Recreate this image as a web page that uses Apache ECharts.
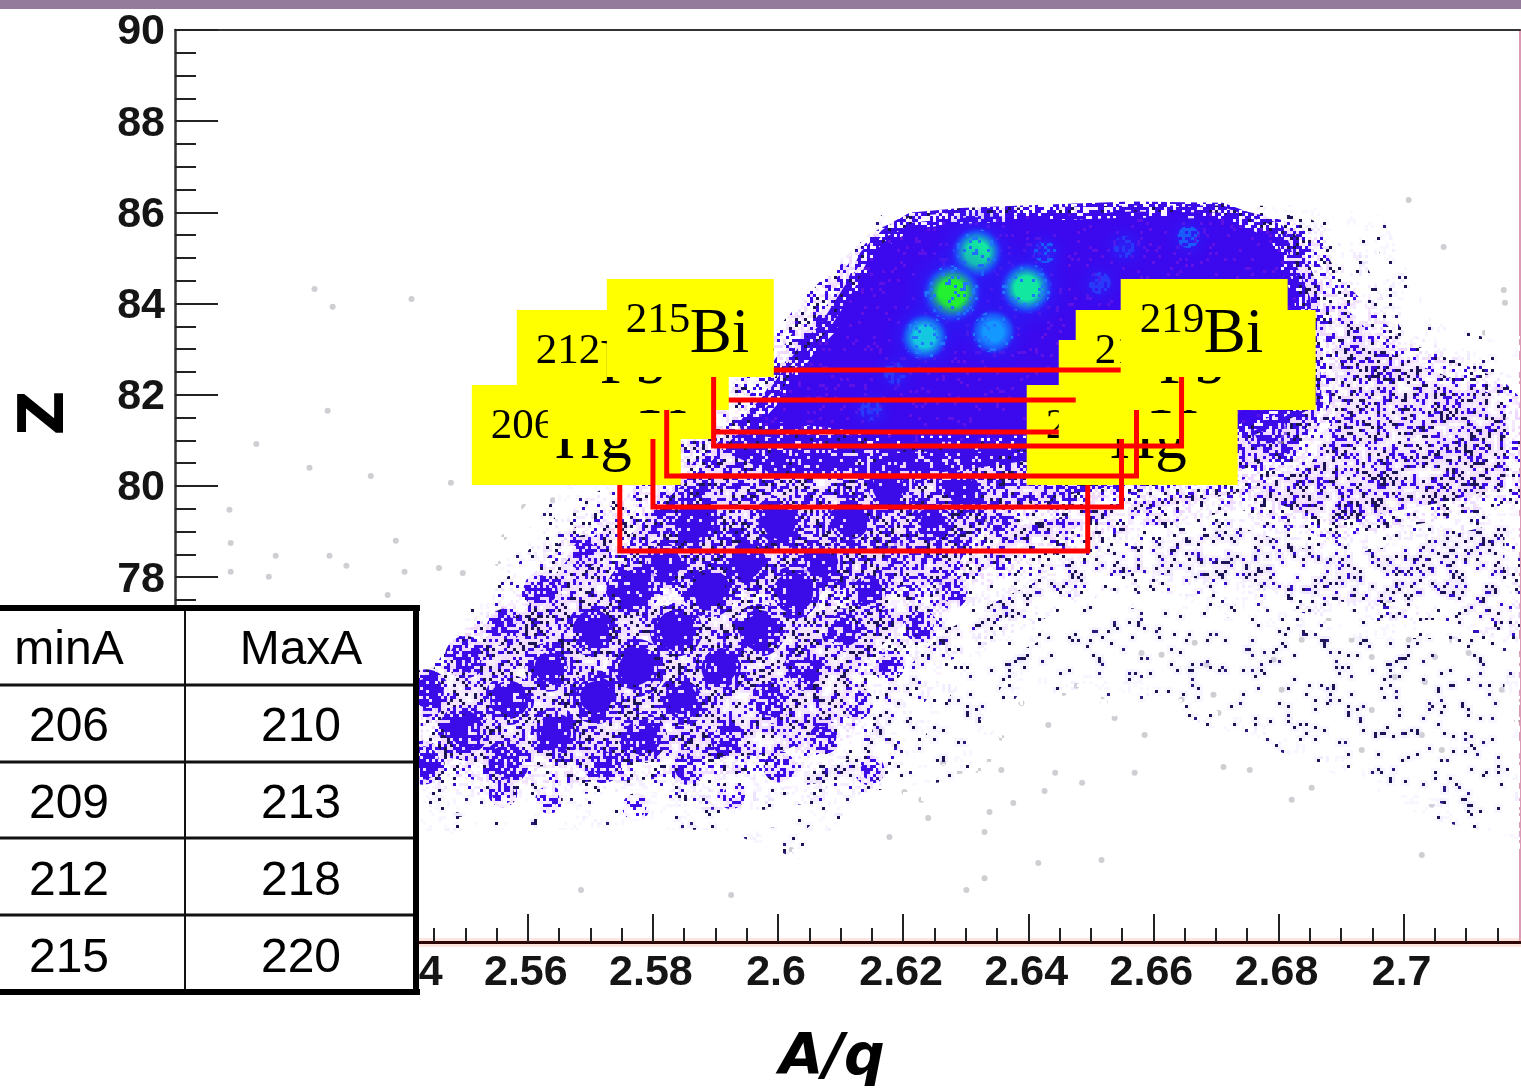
<!DOCTYPE html>
<html><head><meta charset="utf-8">
<style>html,body{margin:0;padding:0;background:#fff}#c{width:1521px;height:1091px}</style>
<script src="https://cdn.jsdelivr.net/npm/echarts@6/dist/echarts.min.js"></script>
</head><body><div id="c"></div>
<script>
// ---------- axis ticks ----------
const xMajorTicks = [2.52,2.54,2.56,2.58,2.6,2.62,2.64,2.66,2.68,2.7];
const xMinorTicks = [2.505,2.51,2.515,2.525,2.53,2.535,2.545,2.55,2.555,2.565,2.57,2.575,2.585,2.59,2.595,2.605,2.61,2.615,2.625,2.63,2.635,2.645,2.65,2.655,2.665,2.67,2.675,2.685,2.69,2.695,2.705,2.71,2.715];
// ---------- density outlines (A/q, Z) ----------
const veryThinAq = [2.6821,2.6965,2.7045,2.719,2.719,2.7045,2.6837,2.6565,2.6389,2.6293,2.6149,2.6037,2.5909,2.5781,2.5557,2.5429,2.5429,2.5525,2.5653,2.5781,2.6037,2.6165];
const veryThinZ  = [86.16,85.94,83.64,82.98,72.24,72.68,74.0,75.31,75.53,73.55,73.34,71.8,72.46,72.46,72.46,72.24,75.31,77.72,79.91,81.01,84.08,85.94];
const thinAq = [2.6837,2.6917,2.6997,2.7109,2.719,2.719,2.7061,2.6901,2.6725,2.6565,2.6485,2.6357,2.6277,2.6197,2.6165,2.5989,2.5877,2.5781,2.5557,2.5429,2.5429,2.5525,2.5589,2.5653,2.5749,2.5877,2.6037,2.6165];
const thinZ  = [85.95,85.4,83.42,82.77,82.33,76.41,77.06,77.06,77.5,77.72,77.5,76.62,76.19,74.43,73.34,72.9,72.9,73.34,73.12,73.34,75.75,77.28,78.38,79.48,80.13,81.45,84.08,85.79];
const midAq = [2.6853,2.6901,2.6997,2.7157,2.719,2.719,2.7061,2.6885,2.6741,2.6565,2.6501,2.6421,2.6325,2.6245,2.6149,2.6117,2.6005,2.5781,2.5557,2.5429,2.5429,2.5477,2.5573,2.5669,2.5749,2.5877,2.6037,2.6165];
const midZ  = [85.62,84.52,83.2,82.33,81.89,79.69,79.26,78.82,79.48,79.04,78.82,78.38,77.72,77.06,75.75,74.43,73.77,73.55,73.45,73.77,75.53,76.62,77.5,79.04,79.69,81.23,84.08,85.66];
const nearAq = [2.6837,2.6877,2.6885,2.6837,2.6741,2.6597,2.6501,2.6357,2.6277,2.6165,2.5877,2.5749,2.5749,2.5813,2.5909,2.6037,2.6157,2.6205,2.6293,2.6421,2.6565,2.6709];
const nearZ  = [85.73,84.52,81.89,80.57,80.13,79.91,79.69,79.26,77.72,77.5,77.5,77.72,79.04,79.91,81.01,83.64,85.6,85.95,86.08,86.12,86.15,86.15];
const bodyAq = [2.6215,2.6293,2.6421,2.6565,2.6709,2.6795,2.6811,2.6835,2.6845,2.6741,2.6517,2.6405,2.6197,2.5955,2.6,2.6049,2.6081,2.6121,2.6145,2.6177];
const bodyZ  = [85.78,85.88,85.95,86.02,85.99,85.55,84.85,84.08,81.89,81.23,81.23,80.97,80.97,81.34,82.0,82.98,83.42,84.3,85.0,85.45];
const lowerBodyAq = [2.5957,2.6421,2.6405,2.6293,2.6181,2.6005,2.5909];
const lowerBodyZ  = [81.45,81.0,80.57,80.35,80.18,80.18,80.79];
// ---------- isotope clusters (A/q, Z, relative counts) ----------
const clusterAq = [2.5866,2.6002,2.6114,2.625,2.6357,2.6176,2.6293,2.6421,2.5821,2.5949,2.6066,2.6192,2.5768,2.589,2.6024,2.6146,2.6277,2.5624,2.5693,2.5704,2.5837,2.597,2.6104,2.6229,2.5565,2.5501,2.5634,2.5773,2.5909,2.6042,2.6181,2.557,2.5709,2.5848,2.5986,2.6125,2.5437,2.5498,2.5645,2.5784,2.5922,2.6072,2.5565,2.572,2.5856,2.6002,2.6146,2.5432,2.5773,2.5634,2.556,2.5925,2.6781];
const clusterZ  = [79.19,79.19,79.26,79.19,79.19,79.98,79.91,79.91,78.31,78.31,78.31,78.38,77.72,77.72,77.66,77.68,77.66,77.72,78.53,76.84,76.84,76.84,76.84,76.91,76.89,76.25,76.03,76.01,76.01,75.97,76.03,75.31,75.37,75.31,75.24,75.24,75.46,74.65,74.58,74.5,74.5,74.5,73.93,73.93,73.84,73.84,73.77,73.93,72.96,73.12,73.27,73.22,81.19];
const clusterCount = [85,90,85,70,30,85,70,35,80,85,75,40,85,90,85,60,28,45,40,85,85,85,60,30,45,55,75,100,82,55,32,78,88,78,55,32,70,78,80,72,45,35,65,50,38,25,22,60,14,14,18,15,50];
const hotAq = [2.6318,2.6278,2.6397,2.6234,2.6344,2.6427,2.6656,2.6554,2.6514,2.6187,2.6149];
const hotZ  = [85.11,84.23,84.34,83.27,83.38,85.13,85.46,85.24,84.45,82.48,81.67];
const hotCount = [70,100,75,55,42,28,28,18,18,18,15];
// ---------- isolated events ----------
const strayAq = [2.5259,2.5288,2.5414,2.528,2.5166,2.5251,2.5349,2.5477,2.5123,2.5125,2.5125,2.5197,2.5186,2.5283,2.531,2.5389,2.5403,2.5458,2.5376,2.5562,2.5594,2.564,2.5552,2.5496,2.6666,2.6792,2.6837,2.6613,2.6581,2.6685,2.6522,2.6538,2.6586,2.6696,2.6704,2.6712,2.6754,2.6853,2.657,2.6486,2.6443,2.6426,2.6376,2.6338,2.633,2.6178,2.6114,2.6416,2.633,2.6301,2.624,2.6229,2.6202,2.6456,2.6477,2.6432,2.6389,2.6357,2.6264,2.629,2.632,2.6336,2.7104,2.705,2.7008,2.6949,2.6986,2.688,2.6922,2.7034,2.6976,2.6736,2.7008,2.7064,2.716,2.713,2.7162,2.6805,2.7029,2.7045,2.7061,2.6933,2.6821,2.6517,2.6357,2.5685,2.5925,2.6021,2.6517,2.7157,2.7077,2.6949,2.7029,2.7181,2.6917,2.6645];
const strayZ  = [84.32,83.93,84.1,81.65,80.92,80.4,80.22,80.07,79.48,78.75,78.12,78.47,78.01,78.47,78.25,78.8,78.12,78.2,77.61,78.88,79.54,79.69,78.31,78.09,76.56,76.19,76.63,76.3,76.34,76.08,75.27,74.91,74.54,75.42,75.02,73.84,73.77,73.38,73.71,73.49,73.71,73.31,73.05,72.85,72.41,72.3,72.41,71.73,71.4,71.14,72.72,73.12,73.29,75.46,75.62,74.76,75.24,74.48,73.93,73.73,73.77,73.99,76.34,76.25,76.63,76.25,75.81,77.06,77.28,75.7,77.44,77.39,86.27,85.24,84.3,83.36,84.02,75.53,71.91,73.01,74.21,74.21,73.12,75.31,73.77,71.14,71.03,72.02,71.8,75.53,76.63,75.09,74.54,74.87,76.63,75.31];
// ---------- annotation labels and gates ----------
const boxMass = ['206','210','209','213','212','218','215','219'];
const boxElement = ['Hg','Hg','Tl','Tl','Pb','Pb','Bi','Bi'];
const boxLeft = [2.55105,2.63975,2.5632,2.64487,2.55824,2.64758,2.57263,2.65477];
const boxRight = [2.58445,2.67347,2.58997,2.67156,2.59212,2.68594,2.59932,2.68146];
const boxTop = [82.215,82.215,83.202,83.202,83.86,83.86,84.539,84.539];
const boxBottom = [80.022,80.022,81.03,81.03,81.667,81.667,82.39,82.39];
const gateLeft = [2.5747,2.58,2.5822,2.5897];
const gateRight = [2.6495,2.6549,2.6573,2.6645];
const gateTop = [80.219,81.184,81.886,82.544];
const gateBottom = [78.575,79.54,80.219,80.877];
// ---------- table ----------
const tableHead = ['minA','MaxA'];
const tableMinA = [206,209,212,215];
const tableMaxA = [210,213,218,220];

// Fill texture: a dither mask that turns a density level into dots.
const CELL=3, CELLS=127, tiles={};
function mask(i,j,seed){
  let h=(Math.imul(i,374761393)+Math.imul(j,668265263)+Math.imul(seed,2246822519))|0;
  h=Math.imul(h^(h>>>13),1274126177); h=Math.imul(h^(h>>>15),2654435761); h^=h>>>16;
  return (h>>>0)/4294967296;
}
function tile(d,color,dark,halo,seed){
  seed=seed||1;
  const key=[d.toFixed(2),color,dark,halo,seed].join();
  if(tiles[key])return tiles[key];
  const cv=document.createElement('canvas');cv.width=cv.height=CELL*CELLS;
  const g=cv.getContext('2d');
  const on=[];
  for(let i=0;i<CELLS;i++)for(let j=0;j<CELLS;j++)if(mask(i,j,seed)<d)on.push([i,j]);
  if(halo){g.fillStyle=halo;on.forEach(([i,j])=>g.fillRect(i*CELL-3,j*CELL-3,CELL+6,CELL+6));}
  on.forEach(([i,j])=>{g.fillStyle=mask(i,j,seed+7)<dark?'#1b1456':color;g.fillRect(i*CELL,j*CELL,CELL,CELL);});
  return tiles[key]={image:cv,repeat:'repeat'};
}
const PURPLE='#3c0ce8';
const erode=(d)=>tile(d,'#ffffff',0,null,99);
function zone(name,aq,zv,style,z){
  return {type:'custom',name,coordinateSystem:'cartesian2d',silent:true,z,clip:true,animation:false,
    data:aq.map((a,i)=>[a,zv[i]]),encode:{x:0,y:1},
    renderItem(p,api){
      if(p.dataIndex!==0)return null;
      return {type:'polygon',shape:{points:aq.map((a,i)=>api.coord([a,zv[i]]))},style};
    }};
}
const hotColor=c=>c>=90?'#22f030':c>=65?'#12e8a0':c>=50?'#14c8e0':c>=35?'#1298ff':c>=25?'#1a5cfa':'#2a38fa';

const series=[
  {type:'scatter',name:'isolated',data:strayAq.map((a,i)=>[a,strayZ[i]]),symbolSize:6,silent:true,z:2,animation:false,
   itemStyle:{color:'rgba(110,110,125,.42)',borderWidth:0}},
  zone('very thin',veryThinAq,veryThinZ,{fill:tile(.05,'#2a1a80',.7,'rgba(225,220,255,.22)'),stroke:erode(.55),lineWidth:36,lineJoin:'round'},3),
  zone('thin',thinAq,thinZ,{fill:tile(.14,'#3410c8',.6,'rgba(235,220,255,.3)'),stroke:erode(.55),lineWidth:36,lineJoin:'round'},4),
  zone('mid',midAq,midZ,{fill:tile(.29,PURPLE,.42,'rgba(240,215,255,.38)'),stroke:erode(.5),lineWidth:34,lineJoin:'round'},5),
  zone('near body',nearAq,nearZ,{fill:tile(.48,PURPLE,.2,'rgba(240,215,255,.3)'),stroke:erode(.4),lineWidth:20,lineJoin:'round'},6),
  {type:'custom',name:'clusters',coordinateSystem:'cartesian2d',silent:true,z:7,clip:true,animation:false,
   data:clusterAq.map((a,i)=>[a,clusterZ[i],clusterCount[i]]),encode:{x:0,y:1},
   renderItem(p,api){
     const c=api.value(2),pt=api.coord([api.value(0),api.value(1)]),r=10+c*.16;
     const core=Math.min(.99,.25+c*.0085);
     const lv=v=>Math.round(v*20)/20;
     return {type:'group',children:[
       {type:'circle',shape:{cx:pt[0],cy:pt[1],r:r*1.12},style:{fill:tile(lv(core*.6),PURPLE,.15,'rgba(240,215,255,.25)')}},
       {type:'circle',shape:{cx:pt[0],cy:pt[1],r:r*.85},style:{fill:tile(lv(core*.85),PURPLE,.05,null)}},
       {type:'circle',shape:{cx:pt[0],cy:pt[1],r:r*.66},style:{fill:tile(lv(core),PURPLE,0,null)}}
     ]};
   }},
  zone('lower body',lowerBodyAq,lowerBodyZ,{fill:tile(.82,PURPLE,.02,'rgba(240,215,255,.2)')},8),
  zone('body fringe',bodyAq,bodyZ,{fill:'none',stroke:tile(.62,PURPLE,.06,null,11),lineWidth:20,lineJoin:'round'},9),
  zone('body',bodyAq,bodyZ,{fill:'#3c08ee'},10),
  zone('body specks',bodyAq,bodyZ,{fill:tile(.07,'#5f12e6',0,null),stroke:tile(.14,'#fbf0ff',0,null,23),lineWidth:12,lineJoin:'round'},11),
  {type:'custom',name:'peaks',coordinateSystem:'cartesian2d',silent:true,z:12,clip:true,animation:false,
   data:hotAq.map((a,i)=>[a,hotZ[i],hotCount[i]]),encode:{x:0,y:1},
   renderItem(p,api){
     const c=api.value(2),pt=api.coord([api.value(0),api.value(1)]),r=c<30?11:13+c*.1,col=hotColor(c);
     const a=c<30?.45:.7;
     const grad={type:'radial',x:.5,y:.5,r:.5,colorStops:[{offset:0,color:col},{offset:.42,color:col},{offset:.78,color:'rgba(24,90,250,.8)'},{offset:1,color:'rgba(40,30,245,0)'}]};
     const glow={type:'radial',x:.5,y:.5,r:.5,colorStops:[{offset:0,color:'rgba(20,70,255,'+a+')'},{offset:1,color:'rgba(40,20,245,0)'}]};
     const kids=[{type:'circle',shape:{cx:pt[0],cy:pt[1],r:r*2.4},style:{fill:glow}}];
     if(c>=30)kids.push({type:'circle',shape:{cx:pt[0],cy:pt[1],r:r*1.35},style:{fill:grad}},
       {type:'circle',shape:{cx:pt[0],cy:pt[1],r:r*1.2},style:{fill:tile(.16,'#1f78ff',0,null,31)}});
     else kids.push({type:'circle',shape:{cx:pt[0],cy:pt[1],r:r},style:{fill:tile(.5,col,0,null,31)}});
     return {type:'group',children:kids};
   }},
  {type:'custom',name:'gates and labels',coordinateSystem:'cartesian2d',silent:true,z:30,clip:false,animation:false,
   data:gateLeft.map((a,i)=>[a,gateTop[i]]),encode:{x:0,y:1},
   renderItem(p,api){
     const i=p.dataIndex,tl=api.coord([gateLeft[i],gateTop[i]]),br=api.coord([gateRight[i],gateBottom[i]]);
     const kids=[{type:'rect',shape:{x:tl[0],y:tl[1],width:br[0]-tl[0],height:br[1]-tl[1]},style:{fill:'none',stroke:'#ff0000',lineWidth:5}}];
     [i*2,i*2+1].forEach(b=>{
       const a=api.coord([boxLeft[b],boxTop[b]]),e=api.coord([boxRight[b],boxBottom[b]]);
       kids.push({type:'rect',shape:{x:a[0],y:a[1],width:e[0]-a[0],height:e[1]-a[1]},style:{fill:'#ffff00'}});
       kids.push({type:'text',style:{x:a[0]+19,y:a[1]+42,text:boxMass[b],font:'43px "Liberation Serif"',fill:'#000',align:'left',verticalAlign:'middle'}});
       kids.push({type:'text',style:{x:a[0]+83,y:a[1]+56,text:boxElement[b],font:'63px "Liberation Serif"',fill:'#000',align:'left',verticalAlign:'middle'}});
     });
     return {type:'group',children:kids};
   }}
];

// table as graphics, above everything
const Z=100, tableEls=[
  {type:'rect',shape:{x:0,y:608,width:416,height:384},style:{fill:'#fff'},z:Z},
];
[685,762,838,915].forEach(y=>tableEls.push({type:'line',shape:{x1:0,y1:y,x2:416,y2:y},style:{stroke:'#111',lineWidth:3},z:Z+1}));
tableEls.push({type:'line',shape:{x1:185,y1:608,x2:185,y2:992},style:{stroke:'#111',lineWidth:2},z:Z+1});
[[0,608,420,608],[416,605,416,995],[0,992,420,992]].forEach(l=>tableEls.push({type:'line',shape:{x1:l[0],y1:l[1],x2:l[2],y2:l[3]},style:{stroke:'#000',lineWidth:6},z:Z+2}));
const cell=(t,x,y)=>({type:'text',x,y,style:{text:String(t),font:'48px "Liberation Sans"',fill:'#000',textAlign:'center',textVerticalAlign:'middle'},z:Z+3});
tableEls.push(cell(tableHead[0],69,651),cell(tableHead[1],301,651));
tableMinA.forEach((v,i)=>{const y=728+i*77;tableEls.push(cell(v,69,y),cell(tableMaxA[i],301,y));});

const tickC='#222';
const option={
  backgroundColor:'#fff',animation:false,
  grid:{left:175,top:30,right:1,bottom:149,containLabel:false},
  xAxis:[
    {type:'value',position:'bottom',min:2.5036,max:2.7186,splitLine:{show:false},
     axisLine:{show:true,onZero:false,lineStyle:{color:'rgba(255,170,150,.3)',width:9}},
     axisTick:{show:true,inside:true,length:28,customValues:xMajorTicks,lineStyle:{color:tickC,width:2}},
     axisLabel:{show:true,customValues:xMajorTicks,margin:10,padding:[0,4,0,0],color:'#151515',fontSize:43,fontWeight:'bold',fontFamily:'Liberation Sans',
       formatter:v=>String(+(+v).toFixed(2)),showMinLabel:true,showMaxLabel:true}},
    {type:'value',position:'bottom',min:2.5036,max:2.7186,splitLine:{show:false},
     axisLine:{show:true,onZero:false,lineStyle:{color:'#2e0808',width:3}},
     axisTick:{show:true,inside:true,length:14,customValues:xMinorTicks,lineStyle:{color:tickC,width:2}},
     axisLabel:{show:false}},
    {type:'value',position:'top',min:2.5036,max:2.7186,splitLine:{show:false},
     axisLine:{show:true,onZero:false,lineStyle:{color:'#333',width:2}},axisTick:{show:false},axisLabel:{show:false}}
  ],
  yAxis:[
    {type:'value',position:'left',min:70,max:90,interval:2,splitLine:{show:false},
     axisLine:{show:true,onZero:false,lineStyle:{color:'#333',width:2.5}},
     axisTick:{show:true,inside:true,length:43,lineStyle:{color:tickC,width:2}},
     axisLabel:{show:true,margin:10,verticalAlign:'top',lineHeight:5,color:'#151515',fontSize:43,fontWeight:'bold',fontFamily:'Liberation Sans'}},
    {type:'value',position:'left',min:70,max:90,interval:.5,splitLine:{show:false},
     axisLine:{show:false},axisTick:{show:true,inside:true,length:21,lineStyle:{color:tickC,width:2}},axisLabel:{show:false}},
    {type:'value',position:'right',min:70,max:90,splitLine:{show:false},
     axisLine:{show:true,onZero:false,lineStyle:{color:'#dc9ab4',width:2}},axisTick:{show:false},axisLabel:{show:false}}
  ],
  graphic:{elements:[
    {type:'rect',shape:{x:0,y:0,width:1521,height:9},style:{fill:'#957b9b'},z:Z},
    {type:'text',x:47,y:413,rotation:Math.PI/2,style:{text:'Z',font:'bold 62px "DejaVu Sans"',fill:'#000',textAlign:'center',textVerticalAlign:'middle'},z:Z},
    {type:'text',x:832,y:1059,style:{text:'A/q',font:'italic bold 57px "DejaVu Sans"',fill:'#000',textAlign:'center',textVerticalAlign:'middle'},z:Z}
  ].concat(tableEls)},
  series
};
const chart=echarts.init(document.getElementById('c'),null,{renderer:'canvas',width:1521,height:1091});
chart.setOption(option);
</script></body></html>
